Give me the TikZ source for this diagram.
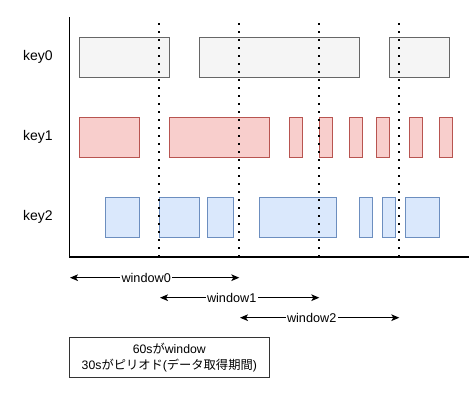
\documentclass[tikz,border=0pt]{standalone}
\usepackage{fontspec}
\setmainfont{Liberation Sans}
\newfontfamily\jpfont{Noto Sans CJK JP}
\usepackage{tikz}
\usetikzlibrary{arrows.meta,positioning}
\definecolor{idlegray}{HTML}{F5F5F5}
\definecolor{idleline}{HTML}{666666}
\definecolor{busyred}{HTML}{F8CECC}
\definecolor{busyline}{HTML}{B85450}
\definecolor{tickblue}{HTML}{DAE8FC}
\definecolor{tickline}{HTML}{6C8EBF}

\begin{document}
\begin{tikzpicture}[
    x=0.75pt, y=-0.75pt,
    font=\fontsize{9.5}{11.5}\selectfont,
    bar/.style={anchor=north west, inner sep=0pt, outer sep=0pt, minimum height=30pt, line width=0.75pt},
    bar0/.style={bar, fill=idlegray, draw=idleline},
    bar1/.style={bar, fill=busyred, draw=busyline},
    bar2/.style={bar, fill=tickblue, draw=tickline},
    keylabel/.style={font=\fontsize{10.5}{12}\selectfont},
    axis/.style={line width=0.9pt, draw=black},
    border/.style={line width=1.5pt, dash pattern=on 1.5pt off 4.5pt},
    span/.style={{Stealth[length=6pt, width=5pt, inset=1.5pt]}-{Stealth[length=6pt, width=5pt, inset=1.5pt]}, line width=0.75pt},
    spanlabel/.style={pos=0.45, fill=white, inner sep=1pt},
    notebox/.style={draw=black!80, line width=0.75pt, align=center, minimum width=150pt, minimum height=29.7pt, font=\fontsize{9.2}{12.5}\selectfont}
]
\useasboundingbox (0,0) rectangle (472,400);

% axes
\coordinate (origin) at (69.3,257);
\coordinate (ytop) at (69.3,17.3);
\coordinate (xend) at (469.3,257);
\draw[axis] (ytop) -- (origin) -- (xend);

% key labels
\node[keylabel] (key0) at (38,57) {key0};
\node[keylabel] (key1) at (38,137) {key1};
\node[keylabel] (key2) at (38,217) {key2};

% busy periods per key
\foreach \xa/\xb [count=\i, evaluate=\xb as \barw using (\xb-\xa)*0.75] in {79.3/169.3, 199.3/359.3, 389.3/449.3}
  \node[bar0, minimum width=\barw pt] (k0-\i) at (\xa,37.3) {};
\foreach \xa/\xb [count=\i, evaluate=\xb as \barw using (\xb-\xa)*0.75] in {79.3/139.3, 169.3/269.3, 289.3/302.3, 319.3/332.3, 349.3/362.3, 376.3/389.3, 409.3/422.3, 439.3/452.3}
  \node[bar1, minimum width=\barw pt] (k1-\i) at (\xa,117.3) {};
\foreach \xa/\xb [count=\i, evaluate=\xb as \barw using (\xb-\xa)*0.75] in {105.3/139.3, 159.3/199.3, 207.7/233.7, 259.3/336.7, 359.3/372.3, 382.3/395.3, 405.3/439.3}
  \node[bar2, minimum width=\barw pt] (k2-\i) at (\xa,197.3) {};

% window borders
\foreach \x [count=\i] in {159.3, 239.3, 319.3, 399.3} {
  \coordinate (top\i) at (\x,23.3);
  \coordinate (bot\i) at (\x,257);
  \draw[border] (top\i) -- (bot\i);
}

% windows
\coordinate (w0s) at (70,277.7);
\coordinate (w0e) at (239.3,277.7);
\coordinate (w1s) at (160,297.7);
\coordinate (w1e) at (319.3,297.7);
\coordinate (w2s) at (240,317.7);
\coordinate (w2e) at (399.3,317.7);
\draw[span] (w0s) -- node[spanlabel] (win0) {window0} (w0e);
\draw[span] (w1s) -- node[spanlabel] (win1) {window1} (w1e);
\draw[span] (w2s) -- node[spanlabel] (win2) {window2} (w2e);

\node[notebox] (note) at (169.3,357.5) {60s{\jpfont が}window\\30s{\jpfont がピリオド}({\jpfont データ取得期間})};
\end{tikzpicture}
\end{document}
